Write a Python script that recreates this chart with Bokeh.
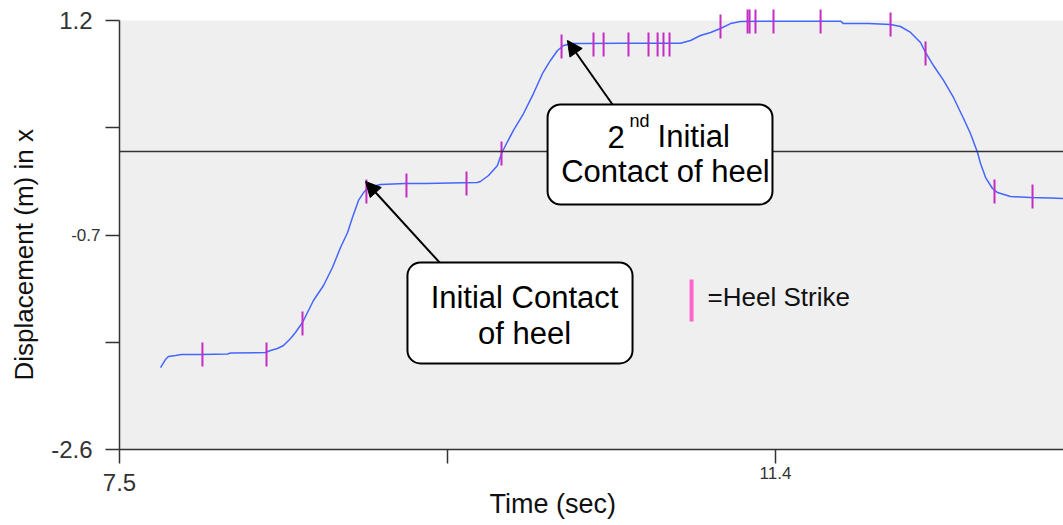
from math import pi

from bokeh.embed import file_html
from bokeh.models import (Arrow, BoxAnnotation, FixedTicker, Label, LinearAxis,
                          NormalHead, Range1d, Span, Title)
from bokeh.plotting import figure
from bokeh.resources import INLINE

# Displacement trace (x direction) over time
time_s = [7.744, 7.773, 7.791, 7.833, 7.869, 7.982, 8.142, 8.160, 8.368, 8.398,
          8.439, 8.475, 8.517, 8.546, 8.588, 8.653, 8.713, 8.766, 8.814, 8.856,
          8.885, 8.921, 8.951, 8.980, 9.052, 9.200, 9.319, 9.468, 9.628, 9.646,
          9.694, 9.747, 9.771, 9.807, 9.842, 9.902, 9.961, 10.015, 10.062, 10.104,
          10.140, 10.193, 10.259, 10.479, 10.835, 10.895, 10.954, 11.014, 11.073,
          11.133, 11.192, 11.311, 11.787, 11.804, 11.953, 12.084, 12.143, 12.203,
          12.262, 12.292, 12.339, 12.399, 12.458, 12.518, 12.559, 12.601, 12.619,
          12.649, 12.690, 12.720, 12.797, 12.916, 13.035, 13.112]
disp_x = [-1.874, -1.803, -1.776, -1.767, -1.759, -1.759, -1.754, -1.745, -1.741, -1.723,
          -1.705, -1.679, -1.617, -1.564, -1.475, -1.280, -1.147, -0.988, -0.811, -0.678,
          -0.545, -0.394, -0.324, -0.279, -0.253, -0.244, -0.244, -0.239, -0.235, -0.226,
          -0.173, -0.084, 0.022, 0.128, 0.226, 0.376, 0.553, 0.731, 0.846, 0.934,
          0.979, 0.996, 0.996, 0.999, 0.999, 1.023, 1.067, 1.094, 1.129,
          1.173, 1.191, 1.194, 1.194, 1.173, 1.173, 1.165, 1.147, 1.094,
          1.005, 0.917, 0.801, 0.669, 0.518, 0.332, 0.199, 0.031, -0.067,
          -0.191, -0.288, -0.324, -0.359, -0.368, -0.372, -0.377]

# Heel strike events
strike_t = [7.993, 8.374, 8.588, 8.968, 9.206, 9.563, 9.771, 10.128, 10.318, 10.378,
            10.526, 10.645, 10.699, 10.734, 10.770, 11.073, 11.234, 11.246, 11.281,
            11.388, 11.668, 12.084, 12.292, 12.702, 12.928]
strike_x = [-1.759, -1.759, -1.484, -0.315, -0.262, -0.244, 0.022, 0.970, 0.987, 0.987,
            0.987, 0.987, 0.987, 0.987, 0.987, 1.147, 1.191, 1.191, 1.191,
            1.191, 1.191, 1.165, 0.908, -0.315, -0.359]

y_ticks = [-2.6, -1.65, -0.7, 0.25, 1.2]
x_ticks = [7.5, 9.45, 11.4]
zero_level = 0.04

FONT = "Liberation Sans"
GREY = "#333333"

# pixel scales of the plotting frame
px_per_x = 656 / 3.9
px_per_y = 429 / 3.8
FRAME_W, FRAME_H = 944, 445
x_end = 7.5 + FRAME_W / px_per_x
y_end = -2.6 + FRAME_H / px_per_y

p = figure(frame_width=FRAME_W, frame_height=FRAME_H,
           min_border_left=119, min_border_right=0, min_border_top=4,
           min_border_bottom=76,
           x_range=Range1d(7.5, x_end), y_range=Range1d(-2.6, y_end),
           output_backend="svg", toolbar_location=None,
           background_fill_color="white", border_fill_color="white",
           outline_line_color=None)
p.grid.visible = False

# grey plotting area below the top of the scale
p.add_layout(BoxAnnotation(top=1.2, fill_color="#efefef", fill_alpha=1,
                           line_alpha=0, level="underlay"))


def style_axis(ax, size, standoff):
    ax.axis_line_color = GREY
    ax.axis_line_width = 1.5
    ax.major_tick_line_color = GREY
    ax.major_tick_line_width = 1.5
    ax.major_tick_in = 0
    ax.major_tick_out = 14
    ax.minor_tick_line_color = None
    ax.minor_tick_in = 0
    ax.minor_tick_out = 0
    ax.major_label_text_font = FONT
    ax.major_label_text_font_size = size
    ax.major_label_text_color = GREY
    ax.major_label_standoff = standoff


def bare(ax):
    ax.axis_line_color = None
    ax.major_tick_line_color = None
    ax.major_tick_out = 0


# y axis: ticks plus the small middle label
yax = p.yaxis[0]
style_axis(yax, "17px", 5)
yax.ticker = FixedTicker(ticks=y_ticks)
yax.bounds = (-2.6, 1.2)
yax.major_label_overrides = {-2.6: "", -1.65: "", -0.7: "-0.7", 0.25: "", 1.2: ""}

# y axis: the large end labels
yax2 = LinearAxis(ticker=FixedTicker(ticks=[-2.6, 1.2]))
style_axis(yax2, "24px", -24)
bare(yax2)
yax2.major_label_overrides = {-2.6: "-2.6", 1.2: "1.2"}
p.add_layout(yax2, "left")

p.add_layout(Title(text="Displacement (m) in x", align="left", offset=69,
                   vertical_align="top", text_font=FONT, text_font_size="26px",
                   text_color="#111111", text_font_style="normal", standoff=15),
             "left")

# x axis: ticks plus the small label
xax = p.xaxis[0]
style_axis(xax, "17px", 3)
xax.ticker = FixedTicker(ticks=x_ticks)
xax.major_label_overrides = {7.5: "", 9.45: "", 11.4: "11.4"}

# x axis: the large start label
xax2 = LinearAxis(ticker=FixedTicker(ticks=[7.5]))
style_axis(xax2, "24px", -8)
bare(xax2)
p.add_layout(xax2, "below")

p.add_layout(Title(text="Time (sec)", align="left", offset=370, vertical_align="top",
                   text_font=FONT, text_font_size="27px", text_color="#111111",
                   text_font_style="normal", standoff=-9), "below")

# reference line
p.add_layout(Span(location=zero_level, dimension="width", line_color=GREY,
                  line_width=1.5))

# displacement trace and heel strikes
p.line(time_s, disp_x, line_color="#4466ff", line_width=1.5)
p.scatter(strike_t, strike_x, marker="dash", angle=pi / 2, size=24,
          line_color="#c42cc4", line_width=2)

# callouts
head = dict(size=15, fill_color="black", line_color="black")
p.add_layout(Arrow(x_start=9.408, y_start=-0.952, x_end=8.963, y_end=-0.226,
                   line_width=2, line_color="black", end=NormalHead(**head)))
p.add_layout(Arrow(x_start=10.431, y_start=0.456, x_end=10.163, y_end=1.023,
                   line_width=2, line_color="black", end=NormalHead(**head)))

box_style = dict(fill_color="white", fill_alpha=1, line_color="black",
                 line_alpha=1, line_width=2, border_radius=13)
p.add_layout(BoxAnnotation(left=9.212, right=10.550, top=-0.944, bottom=-1.838,
                           **box_style))
p.add_layout(BoxAnnotation(left=10.045, right=11.382, top=0.456, bottom=-0.430,
                           **box_style))

box_text = dict(text_font=FONT, text_font_size="31px", text_color="black",
                text_baseline="alphabetic", y_offset=11)
p.add_layout(Label(x=9.908, y=-1.351, text="Initial Contact", text_align="center",
                   **box_text))
p.add_layout(Label(x=9.908, y=-1.670, text="of heel", text_align="center",
                   **box_text))
p.add_layout(Label(x=10.401, y=0.075, text="2", text_align="left", **box_text))
p.add_layout(Label(x=10.532, y=0.208, text="nd", text_align="left",
                   text_font=FONT, text_font_size="18px", text_color="black",
                   text_baseline="alphabetic", y_offset=11))
p.add_layout(Label(x=10.699, y=0.075, text="Initial", text_align="left", **box_text))
p.add_layout(Label(x=10.746, y=-0.235, text="Contact of heel", text_align="center",
                   **box_text))

# key
p.add_layout(BoxAnnotation(left=10.889, right=10.913, top=-1.094, bottom=-1.466,
                           fill_color="#ff66cc", fill_alpha=1, line_alpha=0))
p.add_layout(Label(x=10.996, y=-1.253, text="=Heel Strike", text_align="left",
                   text_baseline="middle", text_font=FONT, text_font_size="26px",
                   text_color="#111111"))

open("out.html", "w").write(file_html(p, INLINE))
